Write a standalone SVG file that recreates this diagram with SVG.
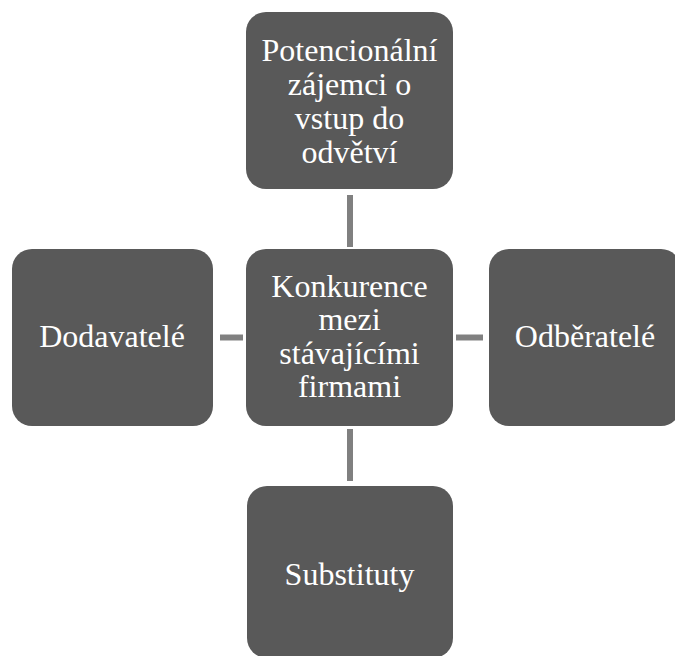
<svg xmlns="http://www.w3.org/2000/svg" width="675" height="656" viewBox="0 0 675 656">
<style>
.box{fill:#595959}
.lbl{font-family:"Liberation Serif","Times New Roman",serif;font-size:32px;fill:#ffffff;text-anchor:middle}
.con{stroke:#808080;stroke-width:6;fill:none}
</style>
<rect width="675" height="656" fill="#ffffff"/>
<g id="connectors">
<line class="con" x1="350" y1="195" x2="350" y2="247"/>
<line class="con" x1="350" y1="429" x2="350" y2="481"/>
<line class="con" x1="220" y1="337.5" x2="243" y2="337.5"/>
<line class="con" x1="456" y1="337.5" x2="483" y2="337.5"/>
</g>
<g id="node-top">
<rect class="box" x="246" y="12" width="207" height="177" rx="20"/>
<text class="lbl"><tspan x="349.5" y="61">Potencionální</tspan><tspan x="349.5" y="95">zájemci o</tspan><tspan x="349.5" y="129">vstup do</tspan><tspan x="349.5" y="163">odvětví</tspan></text>
</g>
<g id="node-center">
<rect class="box" x="246" y="249" width="207" height="177" rx="20"/>
<text class="lbl"><tspan x="349.5" y="297">Konkurence</tspan><tspan x="349.5" y="330">mezi</tspan><tspan x="349.5" y="364">stávajícími</tspan><tspan x="349.5" y="397">firmami</tspan></text>
</g>
<g id="node-left">
<rect class="box" x="12" y="249" width="201" height="177" rx="20"/>
<text class="lbl" x="112" y="347">Dodavatelé</text>
</g>
<g id="node-right">
<rect class="box" x="489" y="249" width="192" height="177" rx="20"/>
<text class="lbl" x="585" y="347">Odběratelé</text>
</g>
<g id="node-bottom">
<rect class="box" x="247" y="486" width="206" height="172" rx="20"/>
<text class="lbl" x="349.5" y="585">Substituty</text>
</g>
</svg>
